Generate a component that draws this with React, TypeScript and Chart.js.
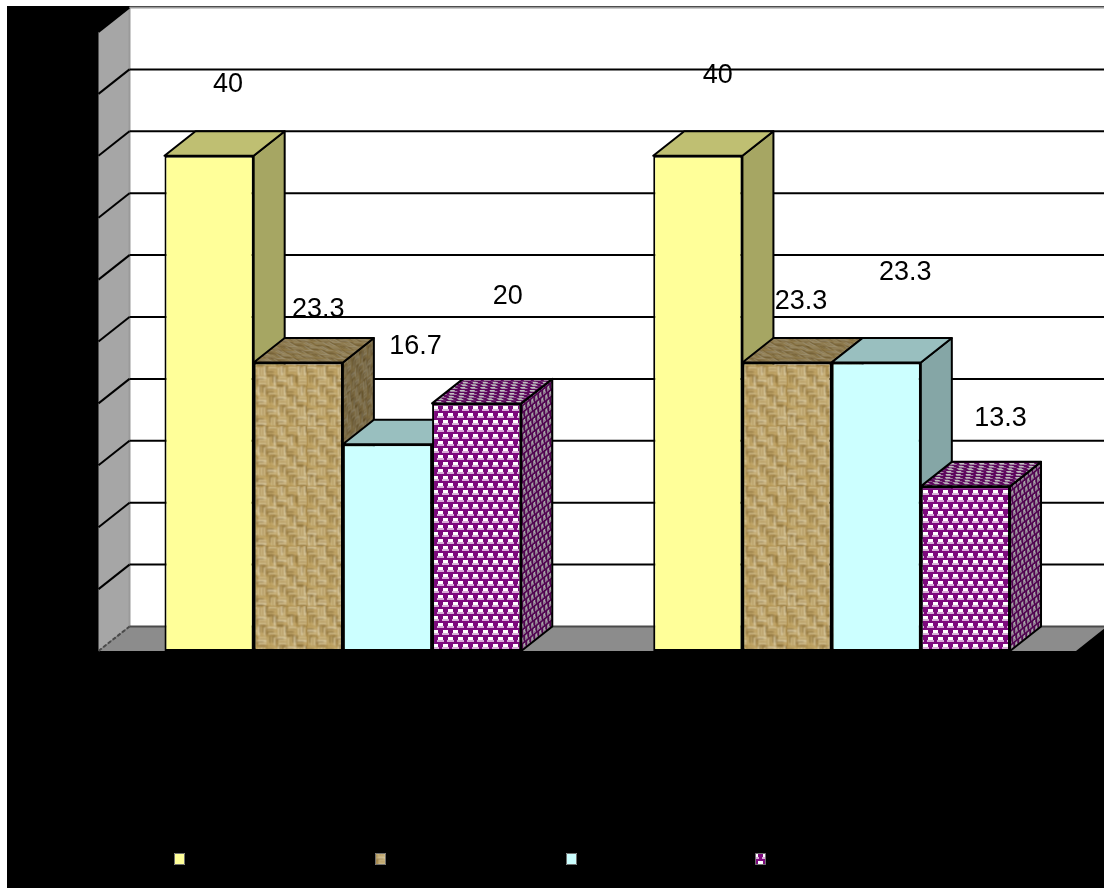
import React, { useEffect, useRef } from "react";
import { Chart, registerables } from "chart.js";

Chart.register(...registerables);

// Survey results, in percent, for two groups and four answer classes.
const categories = ["Group A", "Group B"];
const seriesNames = ["Class 1", "Class 2", "Class 3", "Class 4"];
const series1 = [40, 40];
const series2 = [23.3, 23.3];
const series3 = [16.7, 23.3];
const series4 = [20, 13.3];
const axisTicks = { min: 0, max: 50, step: 5 };

// Depth of the extruded bars and of the walls behind them.
const DEPTH_X = 31;
const DEPTH_Y = 24.5;
const TOP_SHADE = "rgba(0,0,0,0.25)";
const SIDE_SHADE = "rgba(0,0,0,0.35)";

// Value labels sit where they were hand-placed, relative to each bar's top.
const labelNudges = [
  [[19, -71], [20, -80]],
  [[20, -53], [14, -61]],
  [[28, -98], [29, -90]],
  [[31, -107], [35, -68]],
];
const legendSwatchX = [167, 368, 559, 748];

function makeTile(w: number, h: number, paint: (c: CanvasRenderingContext2D) => void) {
  const tile = document.createElement("canvas");
  tile.width = w;
  tile.height = h;
  paint(tile.getContext("2d")!);
  return tile;
}

// Woven burlap: uneven runs of light thread crossing darker gaps.
const weaveTones = [0, 2, 1, 3, 1, 0, 3, 2, 2, 3, 0, 1, 3, 1, 2, 0, 1, 0, 2, 3];
function burlapTile() {
  const cell = 10;
  const size = cell * 6;
  return makeTile(size, size, (c) => {
    c.fillStyle = "#a07f3c";
    c.fillRect(0, 0, size, size);
    c.filter = "blur(0.8px)";
    const lights = ["#fbf3d6", "#eedfb2", "#dcc488", "#f4e8c0"];
    const darks = ["#5e4210", "#8a6a28", "#4e360a", "#7a5a20"];
    for (let r = 0; r < 6; r++) {
      for (let k = 0; k < 6; k++) {
        const x = k * cell;
        const y = r * cell;
        const across = (r + k) % 2 === 0;
        for (let t = 0; t < 3; t++) {
          const tone = weaveTones[(r * 7 + k * 3 + t) % weaveTones.length];
          const inset = tone % 2;
          c.fillStyle = lights[tone];
          if (across) c.fillRect(x + inset, y + t * 3 + 1, cell - inset, 2);
          else c.fillRect(x + t * 3 + 1, y + inset, 2, cell - inset);
          c.fillStyle = darks[tone];
          if (across) c.fillRect(x + inset * 2, y + t * 3 + 3, cell - 3, 1);
          else c.fillRect(x + t * 3 + 3, y + inset * 2, 1, cell - 3);
        }
      }
    }
  });
}

// Staggered white lozenges on purple, with a soft lilac underside.
function purpleTile() {
  const w = 10;
  const h = 14;
  return makeTile(w, h, (c) => {
    c.fillStyle = "#7d0a7d";
    c.fillRect(0, 0, w, h);
    c.filter = "blur(0.6px)";
    const blob = (x: number, y: number) => {
      c.fillStyle = "#d8aed8";
      c.fillRect(x - 1, y + 3, 7, 2);
      c.fillStyle = "#ffffff";
      c.fillRect(x, y, 5, 3);
    };
    blob(1, 1);
    blob(6, 8);
    blob(-4, 8);
  });
}

function facePattern(tile: HTMLCanvasElement, m: number[]) {
  const c = tile.getContext("2d")!;
  const p = c.createPattern(tile, "repeat")!;
  p.setTransform(new DOMMatrix(m));
  return p;
}

const wallsAndBars = {
  id: "wallsAndBars",
  beforeDatasetsDraw(chart: any) {
    const { ctx, chartArea: a, scales } = chart;
    const y = scales.y;
    ctx.save();
    // side wall, back wall, floor
    ctx.fillStyle = "#a6a6a6";
    ctx.beginPath();
    ctx.moveTo(a.left, a.bottom);
    ctx.lineTo(a.left + DEPTH_X, a.bottom - DEPTH_Y);
    ctx.lineTo(a.left + DEPTH_X, a.top - DEPTH_Y);
    ctx.lineTo(a.left, a.top);
    ctx.closePath();
    ctx.fill();
    ctx.fillStyle = "#ffffff";
    ctx.fillRect(a.left + DEPTH_X, a.top - DEPTH_Y, a.right - a.left, a.bottom - a.top);
    ctx.fillStyle = "#8c8c8c";
    ctx.beginPath();
    ctx.moveTo(a.left, a.bottom);
    ctx.lineTo(a.left + DEPTH_X, a.bottom - DEPTH_Y);
    ctx.lineTo(a.right + DEPTH_X, a.bottom - DEPTH_Y);
    ctx.lineTo(a.right, a.bottom);
    ctx.closePath();
    ctx.fill();

    ctx.strokeStyle = "#9a9a9a";
    ctx.lineWidth = 2;
    ctx.beginPath();
    ctx.moveTo(a.left + DEPTH_X, a.top - DEPTH_Y);
    ctx.lineTo(a.left + DEPTH_X, a.bottom - DEPTH_Y);
    ctx.stroke();

    // gridlines run along the side wall and across the back wall
    for (const tick of y.ticks) {
      const py = y.getPixelForValue(tick.value);
      const isFloor = tick.value === axisTicks.min;
      const isTop = tick.value === axisTicks.max;
      ctx.strokeStyle = isFloor ? "#4a4a4a" : "#000000";
      ctx.setLineDash([]);
      ctx.beginPath();
      if (isFloor) ctx.setLineDash([4, 2]);
      ctx.moveTo(a.left, py);
      ctx.lineTo(a.left + DEPTH_X, py - DEPTH_Y);
      ctx.stroke();
      ctx.setLineDash([]);
      ctx.strokeStyle = isTop ? "#9a9a9a" : isFloor ? "#4a4a4a" : "#000000";
      ctx.beginPath();
      ctx.moveTo(a.left + DEPTH_X, py - DEPTH_Y);
      ctx.lineTo(a.right + DEPTH_X, py - DEPTH_Y);
      ctx.stroke();
    }
    ctx.restore();
  },
  // Bars paint left to right below, so each one covers its neighbour's side face.
  beforeDatasetDraw() {
    return false;
  },
  afterDatasetsDraw(chart: any) {
    const { ctx } = chart;
    const metas = chart.data.datasets.map((_: any, i: number) => chart.getDatasetMeta(i));
    const face = (pts: number[][], fill: any, shade: string) => {
      ctx.beginPath();
      pts.forEach((p, i) => (i ? ctx.lineTo(p[0], p[1]) : ctx.moveTo(p[0], p[1])));
      ctx.closePath();
      ctx.fillStyle = fill;
      ctx.fill();
      ctx.fillStyle = shade;
      ctx.fill();
      ctx.strokeStyle = "#000000";
      ctx.lineWidth = 2;
      ctx.lineJoin = "round";
      ctx.stroke();
    };
    ctx.save();
    for (let cat = 0; cat < categories.length; cat++) {
      metas.forEach((meta: any, i: number) => {
        const bar = meta.data[cat];
        const { x, y, base, width } = bar.getProps(["x", "y", "base", "width"], true);
        const ds = chart.data.datasets[i];
        const l = x - width / 2;
        const r = x + width / 2;
        face(
          [[r, y], [r + DEPTH_X, y - DEPTH_Y], [r + DEPTH_X, base - DEPTH_Y], [r, base]],
          ds.sideFill,
          SIDE_SHADE,
        );
        face(
          [[l, y], [l + DEPTH_X, y - DEPTH_Y], [r + DEPTH_X, y - DEPTH_Y], [r, y]],
          ds.topFill,
          TOP_SHADE,
        );
        bar.draw(ctx);
      });
    }
    // value labels go over everything
    ctx.fillStyle = "#000000";
    ctx.font = '27px "Liberation Sans", Arial, sans-serif';
    ctx.textAlign = "center";
    ctx.textBaseline = "middle";
    metas.forEach((meta: any, i: number) => {
      meta.data.forEach((bar: any, cat: number) => {
        const [dx, dy] = labelNudges[i][cat];
        ctx.fillText(String(chart.data.datasets[i].data[cat]), bar.x + dx, bar.y + dy);
      });
    });
    // legend keys; their captions print in black on the black ground
    chart.data.datasets.forEach((ds: any, i: number) => {
      ctx.fillStyle = ds.backgroundColor;
      ctx.fillRect(legendSwatchX[i], 847, 11, 12);
      ctx.strokeStyle = "#6f6f6f";
      ctx.lineWidth = 1;
      ctx.strokeRect(legendSwatchX[i] + 0.5, 847.5, 10, 11);
    });
    ctx.restore();
  },
};

export default function App() {
  const ref = useRef<HTMLCanvasElement>(null);
  useEffect(() => {
    const burlap = burlapTile();
    const purple = purpleTile();
    const textured = (tile: HTMLCanvasElement) => ({
      backgroundColor: facePattern(tile, [1, 0, 0, 1, 0, 0]),
      topFill: facePattern(tile, [1, 0, 0.6, 0.4, 0, 0]),
      sideFill: facePattern(tile, [0.4, -0.32, 0, 1, 0, 0]),
    });
    const solid = (color: string) => ({ backgroundColor: color, topFill: color, sideFill: color });
    const common = { borderColor: "#000000", borderWidth: 2, borderSkipped: false, inflateAmount: 0 };
    const chart = new Chart(ref.current!, {
      type: "bar",
      data: {
        labels: categories,
        datasets: [
          { label: seriesNames[0], data: series1, ...solid("#ffff99"), ...common },
          { label: seriesNames[1], data: series2, ...textured(burlap), ...common },
          { label: seriesNames[2], data: series3, ...solid("#ccffff"), ...common },
          { label: seriesNames[3], data: series4, ...textured(purple), ...common },
        ] as any,
      },
      options: {
        responsive: false,
        animation: false,
        layout: { padding: { left: 91.5, right: 28, top: 26, bottom: 237 } },
        datasets: { bar: { categoryPercentage: 0.73, barPercentage: 1 } },
        plugins: { legend: { display: false }, tooltip: { enabled: false } },
        scales: {
          x: { display: false },
          y: {
            display: false,
            min: axisTicks.min,
            max: axisTicks.max,
            ticks: { stepSize: axisTicks.step },
          },
        },
      },
      plugins: [wallsAndBars],
    });
    return () => chart.destroy();
  }, []);
  return (
    <canvas
      ref={ref}
      width={1097}
      height={882}
      style={{ position: "absolute", left: 7, top: 6, display: "block", background: "#000000" }}
    />
  );
}
